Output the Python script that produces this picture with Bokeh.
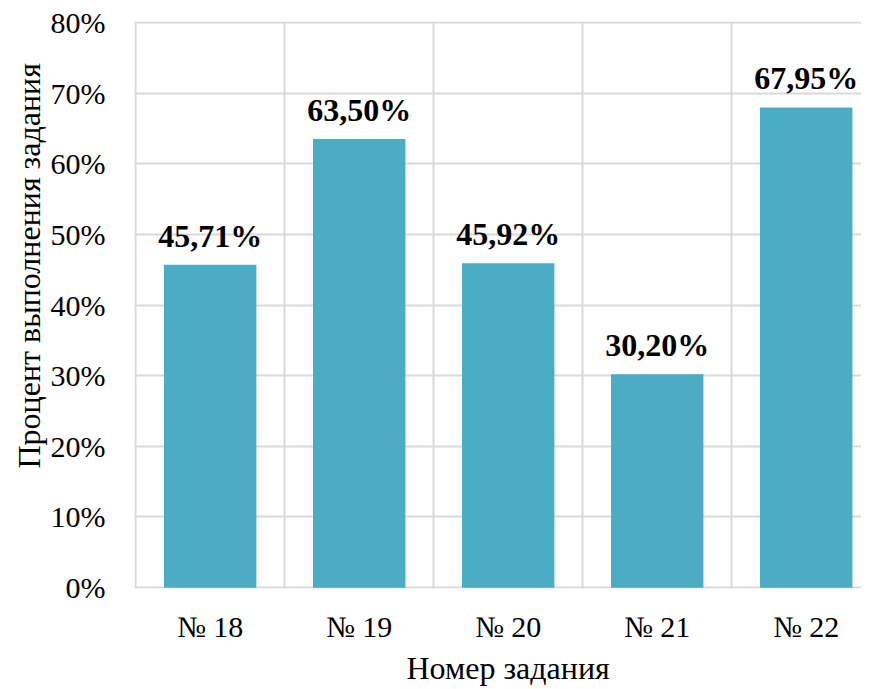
from bokeh.plotting import figure
from bokeh.models import ColumnDataSource, LabelSet, Title, FixedTicker, Grid, Range1d
from bokeh.embed import file_html
from bokeh.resources import INLINE

categories = ["№ 18", "№ 19", "№ 20", "№ 21", "№ 22"]
values = [45.71, 63.50, 45.92, 30.20, 67.95]
value_labels = ["45,71%", "63,50%", "45,92%", "30,20%", "67,95%"]
y_ticks = [0, 10, 20, 30, 40, 50, 60, 70, 80]
x_title = "Номер задания"
y_title = "Процент выполнения задания"

FONT = "Liberation Serif"

xs = [i + 0.5 for i in range(len(categories))]
src = ColumnDataSource(dict(x=xs, top=values, lab=value_labels))

p = figure(frame_width=727, frame_height=567, output_backend="svg", toolbar_location=None,
           x_range=Range1d(-0.008, 4.871), y_range=Range1d(-0.12, 80.12),
           min_border_left=134, min_border_top=21, min_border_bottom=90, min_border_right=0)
p.outline_line_color = None
p.background_fill_color = "white"

p.vbar(x="x", top="top", width=0.62, bottom=0, source=src, color="#4BACC6", line_color=None)

labels = LabelSet(x="x", y="top", text="lab", source=src, text_align="center",
                  text_baseline="alphabetic", y_offset=18, text_font=FONT,
                  text_font_size="32px", text_font_style="bold", text_color="black")
p.add_layout(labels)

# y axis
p.yaxis.ticker = FixedTicker(ticks=y_ticks)
p.yaxis.major_label_overrides = {t: f"{t}%" for t in y_ticks}
p.yaxis.axis_line_color = None
p.yaxis.major_tick_line_color = None
p.yaxis.minor_tick_line_color = None
p.yaxis.major_label_standoff = 23
p.yaxis.major_label_text_font = FONT
p.yaxis.major_label_text_font_size = "30px"
p.yaxis.major_label_text_color = "black"

# x axis
p.xaxis.ticker = FixedTicker(ticks=xs)
p.xaxis.major_label_overrides = {x: c for x, c in zip(xs, categories)}
p.xaxis.axis_line_color = None
p.xaxis.major_tick_line_color = None
p.xaxis.minor_tick_line_color = None
p.xaxis.major_label_standoff = 15
p.xaxis.major_label_text_font = FONT
p.xaxis.major_label_text_font_size = "30px"
p.xaxis.major_label_text_color = "black"

# axis titles as side titles, offset from the frame edge as in the original
p.add_layout(Title(text=x_title, align="left", offset=272, standoff=4,
                   text_font=FONT, text_font_size="32px", text_font_style="normal",
                   text_color="black"), "below")
p.add_layout(Title(text=y_title, align="left", offset=120, standoff=2,
                   text_font=FONT, text_font_size="32px", text_font_style="normal",
                   text_color="black"), "left")

# grids
p.xgrid.visible = False
p.ygrid.grid_line_color = "#D9D9D9"
p.ygrid.grid_line_width = 2
vgrid = Grid(dimension=0, ticker=FixedTicker(ticks=[0, 1, 2, 3, 4, 5]),
             grid_line_color="#D9D9D9", grid_line_width=2)
p.add_layout(vgrid)

open("out.html", "w").write(file_html(p, INLINE))
